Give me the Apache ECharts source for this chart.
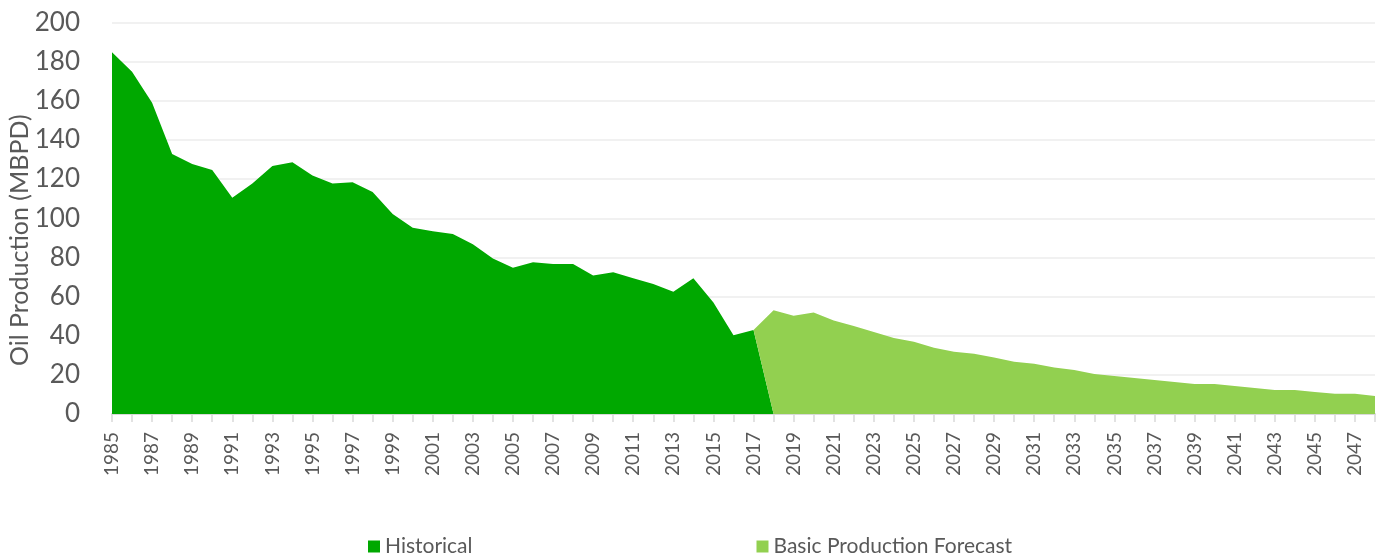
<!DOCTYPE html>
<html>
<head>
<meta charset="utf-8">
<script src="https://cdn.jsdelivr.net/npm/echarts@6/dist/echarts.min.js"></script>
<style>
  html, body { margin: 0; padding: 0; background: #fff; }
  #chart { width: 1377px; height: 556px; }
</style>
</head>
<body>
<div id="chart"></div>
<script>
// years on the category axis, 1985 - 2048
const firstYear = 1985;
const lastYear = 2048;
const years = [];
for (let y = firstYear; y <= lastYear; y++) years.push(String(y));

// historical production 1985 - 2017 (MBPD)
const historical = [
    184.8, 174.9, 159.0, 132.8, 127.7, 124.6, 110.5, 117.8, 126.7, 128.6,
    121.8, 117.7, 118.4, 113.4, 102.2, 95.2, 93.3, 92.0, 86.7, 79.5,
    74.7, 77.5, 76.6, 76.6, 70.7, 72.4, 69.3, 66.4, 62.5, 69.3,
    57.0, 40.2, 42.9
];

// basic production forecast 2018 - 2048 (MBPD)
const forecast = [
    53.0, 50.2, 51.9, 47.8, 45.0, 41.9, 38.8, 36.9, 33.9, 31.8,
    30.8, 28.8, 26.7, 25.7, 23.7, 22.5, 20.4, 19.4, 18.4, 17.4,
    16.3, 15.3, 15.3, 14.3, 13.3, 12.3, 12.3, 11.2, 10.4, 10.4,
    9.2
];

const yTicks = { min: 0, max: 200, step: 20 };

// stacked like the excel area chart: historical drops to 0 in 2018,
// forecast starts from 0 in 2017 so the split is a diagonal
const histData = years.map((y, i) => i < historical.length ? historical[i] : (i === historical.length ? 0 : null));
const foreData = years.map((y, i) => {
    const k = i - historical.length;
    if (k >= 0) return forecast[k];
    return k === -1 ? 0 : null;
});

const txt = '#595959';
const font = 'Lato, "Open Sans", sans-serif';

const chart = echarts.init(document.getElementById('chart'));
chart.setOption({
    animation: false,
    textStyle: { fontFamily: font },
    grid: { left: 112, right: 2, top: 22.5, bottom: 142, outerBoundsMode: 'none' },
    legend: {
        data: ['Historical', 'Basic Production Forecast'],
        left: 363,
        top: 531,
        icon: 'rect',
        itemWidth: 12,
        itemHeight: 12,
        itemGap: 284,
        textStyle: { color: txt, fontSize: 21, fontFamily: font }
    },
    xAxis: {
        type: 'category',
        data: years,
        boundaryGap: false,
        axisLine: { lineStyle: { color: '#d9d9d9', width: 2 } },
        axisTick: { show: true, interval: 0, length: 8, lineStyle: { color: '#d9d9d9', width: 1.5 } },
        axisLabel: { interval: 1, rotate: 90, margin: 18, color: txt, fontSize: 19, fontFamily: font },
        splitLine: { show: false }
    },
    yAxis: {
        type: 'value',
        min: yTicks.min,
        max: yTicks.max,
        interval: yTicks.step,
        name: 'Oil Production (MBPD)',
        nameLocation: 'middle',
        nameGap: 80,
        nameMoveOverlap: false,
        // right padding pushes the rotated title a bit lower, as in the original
        nameTextStyle: { color: txt, fontSize: 25, fontFamily: font, padding: [0, 44, 0, 0] },
        axisLine: { show: false },
        axisTick: { show: false },
        axisLabel: { margin: 32, color: txt, fontSize: 26, fontFamily: font },
        splitLine: { lineStyle: { color: '#ececec', width: 1.5 } }
    },
    series: [
        {
            name: 'Historical',
            type: 'line',
            stack: 'prod',
            data: histData,
            showSymbol: false,
            lineStyle: { width: 0 },
            itemStyle: { color: '#00a800' },
            areaStyle: { color: '#00a800', opacity: 1 }
        },
        {
            name: 'Basic Production Forecast',
            type: 'line',
            stack: 'prod',
            data: foreData,
            showSymbol: false,
            lineStyle: { width: 0 },
            itemStyle: { color: '#92d050' },
            areaStyle: { color: '#92d050', opacity: 1 }
        }
    ]
});
</script>
</body>
</html>
